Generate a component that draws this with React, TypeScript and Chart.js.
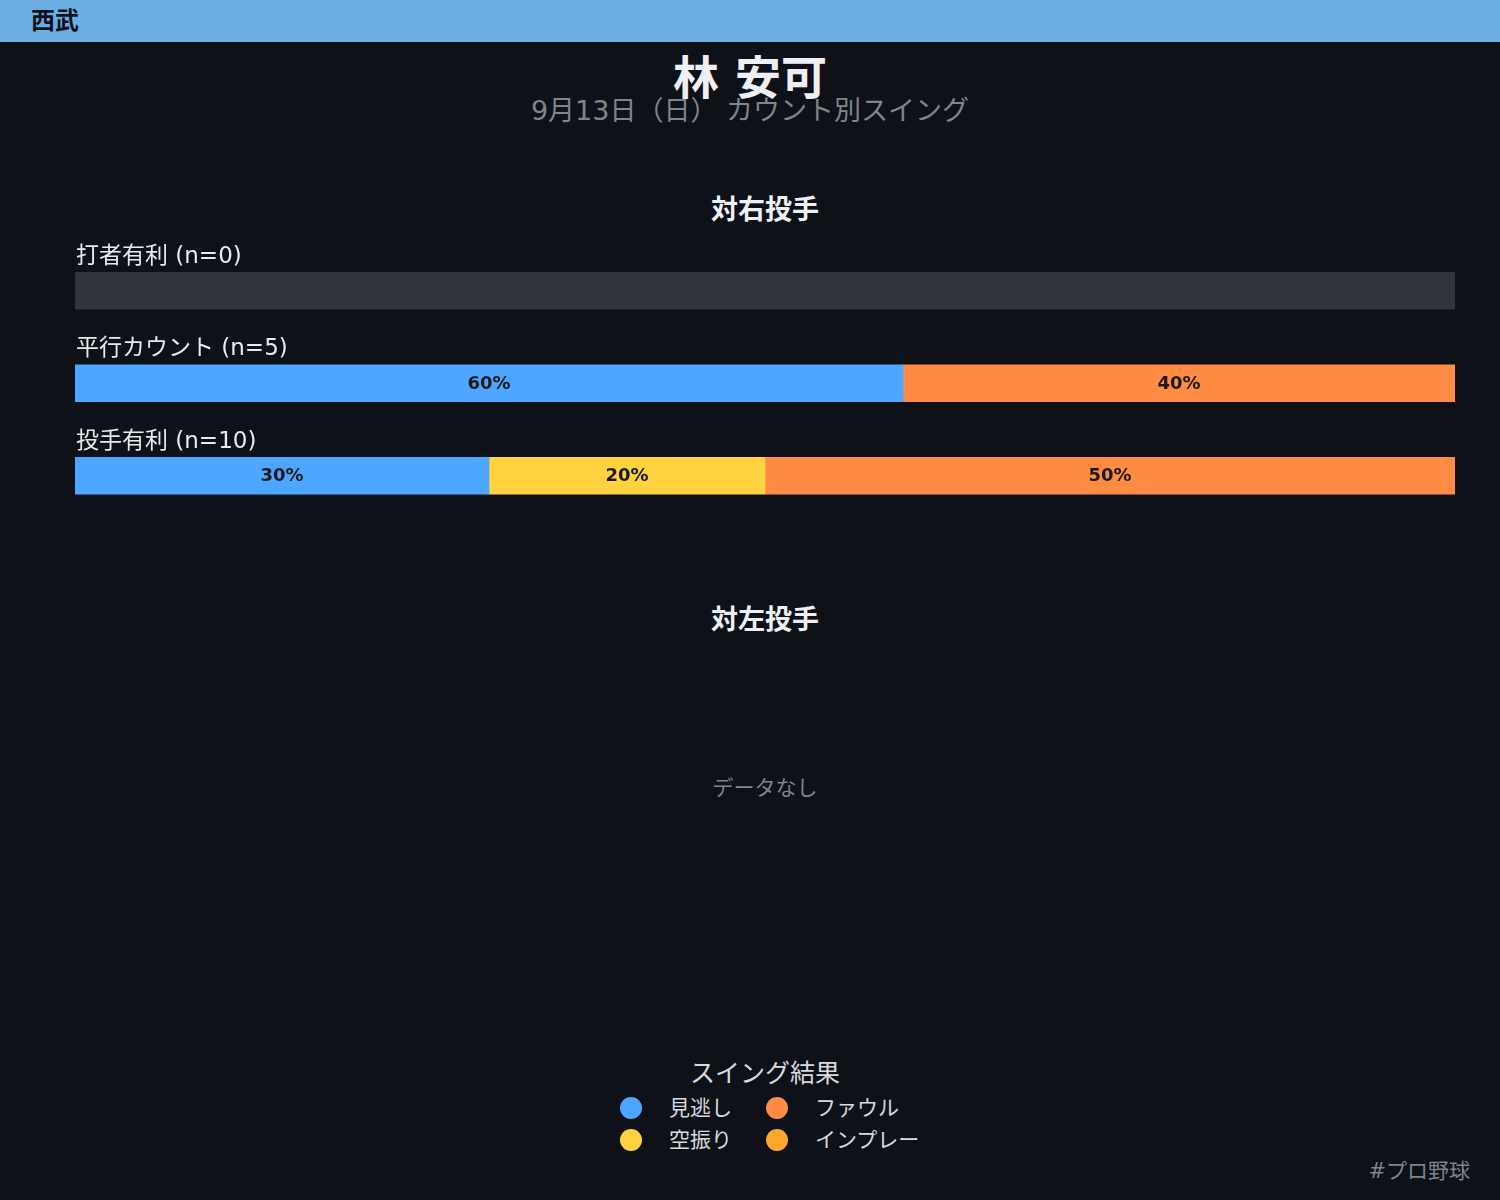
import React, { useEffect, useRef } from "react";
import { Chart, registerables } from "chart.js";

Chart.register(...registerables);

const teamName = "西武";
const playerName = "林 安可";
const subtitle = "9月13日（日） カウント別スイング";
const sectionRight = "対右投手";
const sectionLeft = "対左投手";
const noDataText = "データなし";
const legendTitle = "スイング結果";
const footerText = "#プロ野球";

const rowCategories = ["打者有利", "平行カウント", "投手有利"];
const seriesNames = ["見逃し", "空振り", "ファウル", "インプレー"];
const seriesColors = ["#4da6ff", "#ffd23f", "#ff8c42", "#ffa62b"];
const countLook = [0, 3, 3];
const countWhiff = [0, 0, 2];
const countFoul = [0, 2, 5];
const countInPlay = [0, 0, 0];

const FONT = '"DejaVu Sans", "Noto Sans CJK JP", sans-serif';
const BG = "#0e1118";

function App() {
  const canvasRef = useRef<HTMLCanvasElement | null>(null);

  useEffect(() => {
    document.body.style.margin = "0";
    document.body.style.background = BG;
    const counts = [countLook, countWhiff, countFoul, countInPlay];
    const totals = rowCategories.map((_, i) => counts.reduce((s, c) => s + c[i], 0));
    const pct = counts.map((c) => c.map((v, i) => (totals[i] > 0 ? (v / totals[i]) * 100 : 0)));
    const emptyRow = totals.map((t) => (t === 0 ? 100 : null));

    const labelPlugin = {
      id: "rowLabels",
      afterDatasetsDraw(chart: any) {
        const ctx = chart.ctx;
        const yScale = chart.scales.y;
        ctx.save();
        ctx.font = `23px ${FONT}`;
        ctx.fillStyle = "#e8eaee";
        ctx.textAlign = "left";
        ctx.textBaseline = "middle";
        rowCategories.forEach((cat, i) => {
          const y = yScale.getPixelForValue(i);
          ctx.fillText(`${cat} (n=${totals[i]})`, chart.chartArea.left + 1, y - 34);
        });
        ctx.font = `bold 18px ${FONT}`;
        ctx.fillStyle = "#1a1a1a";
        ctx.textAlign = "center";
        for (let d = 0; d < seriesNames.length; d++) {
          const meta = chart.getDatasetMeta(d);
          meta.data.forEach((el: any, i: number) => {
            const v = pct[d][i];
            if (v >= 5) {
              const c = el.getCenterPoint();
              ctx.fillText(`${Math.round(v)}%`, c.x, c.y + 1);
            }
          });
        }
        ctx.restore();
      },
    };

    const datasets: any[] = seriesNames.map((name, d) => ({
      label: name,
      data: pct[d].map((v) => (v > 0 ? v : null)),
      backgroundColor: seriesColors[d],
      borderWidth: 0,
      barThickness: 37,
      stack: "s",
    }));
    datasets.push({
      label: "none",
      data: emptyRow,
      backgroundColor: "#30353d",
      borderWidth: 0,
      barThickness: 37,
      stack: "s",
    });

    const chart = new Chart(canvasRef.current as HTMLCanvasElement, {
      type: "bar",
      data: { labels: rowCategories, datasets },
      options: {
        indexAxis: "y",
        animation: false,
        responsive: false,
        maintainAspectRatio: false,
        layout: { padding: { top: 44.5, left: 0, right: 0, bottom: 0 } },
        plugins: { legend: { display: false }, tooltip: { enabled: false } },
        scales: {
          x: { display: false, stacked: true, min: 0, max: 100 },
          y: { display: false, stacked: true },
        },
      },
      plugins: [labelPlugin],
    });
    return () => chart.destroy();
  }, []);

  const center = (x: number, y: number): React.CSSProperties => ({
    position: "absolute",
    left: x,
    top: y,
    transform: "translate(-50%, -50%)",
    lineHeight: 1,
    whiteSpace: "nowrap",
  });

  return (
    <div
      style={{
        position: "fixed",
        left: 0,
        top: 0,
        width: 1500,
        height: 1200,
        background: BG,
        fontFamily: FONT,
        overflow: "hidden",
      }}
    >
      <div style={{ position: "absolute", left: 0, top: 0, width: 1500, height: 42, background: "#6aaee4" }} />
      <div style={{ position: "absolute", left: 31, top: 21, transform: "translateY(-50%)", lineHeight: 1, fontSize: 24, fontWeight: 700, color: BG }}>
        {teamName}
      </div>
      <div style={{ ...center(750, 78), fontSize: 46, fontWeight: 700, color: "#eef0f5" }}>{playerName}</div>
      <div style={{ ...center(750, 110), fontSize: 27, color: "#7f848d" }}>{subtitle}</div>
      <div style={{ ...center(765, 209), fontSize: 27, fontWeight: 700, color: "#eef0f5" }}>{sectionRight}</div>
      <canvas
        ref={canvasRef}
        width={1380}
        height={322}
        style={{ position: "absolute", left: 75, top: 200, width: 1380, height: 322 }}
      />
      <div style={{ ...center(765, 619), fontSize: 27, fontWeight: 700, color: "#eef0f5" }}>{sectionLeft}</div>
      <div style={{ ...center(765, 788), fontSize: 21, color: "#7f848d" }}>{noDataText}</div>
      <div style={{ ...center(765, 1073), fontSize: 25, color: "#d8dade" }}>{legendTitle}</div>
      {seriesNames.map((name, i) => {
        const col = i === 0 || i === 1 ? 0 : 1;
        const row = i === 0 || i === 2 ? 0 : 1;
        const cx = col === 0 ? 631 : 777;
        const cy = row === 0 ? 1108 : 1140;
        return (
          <React.Fragment key={name}>
            <div
              style={{
                position: "absolute",
                left: cx - 11,
                top: cy - 11,
                width: 22,
                height: 22,
                borderRadius: 11,
                background: seriesColors[i],
              }}
            />
            <div
              style={{
                position: "absolute",
                left: cx + 38,
                top: cy,
                transform: "translateY(-50%)",
                lineHeight: 1,
                fontSize: 21,
                color: "#d8dade",
                whiteSpace: "nowrap",
              }}
            >
              {name}
            </div>
          </React.Fragment>
        );
      })}
      <div style={{ position: "absolute", right: 30, top: 1171, transform: "translateY(-50%)", lineHeight: 1, fontSize: 21, color: "#7f848d" }}>
        {footerText}
      </div>
    </div>
  );
}

export default App;
